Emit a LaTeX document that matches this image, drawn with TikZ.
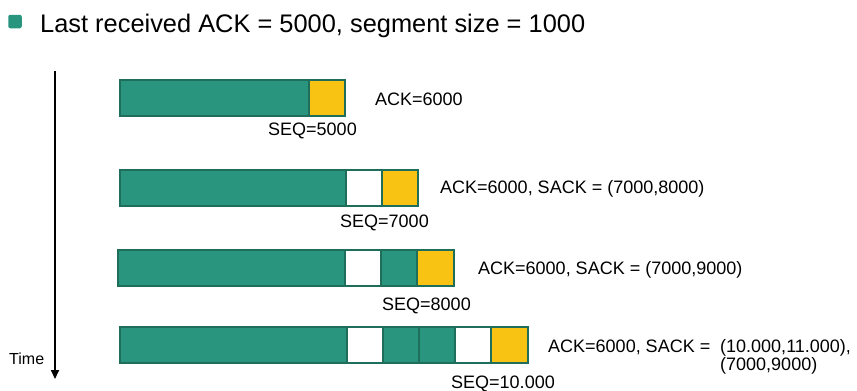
\documentclass[tikz,border=0pt]{standalone}
\usepackage{fontspec}
\setmainfont{Liberation Sans}
\usetikzlibrary{arrows.meta, positioning}
\definecolor{segfill}{HTML}{2A957F}
\definecolor{segline}{HTML}{1F6E5C}
\definecolor{segyellow}{HTML}{F9C314}

\begin{document}
\begin{tikzpicture}[x=1pt, y=-1pt,
    cell/.style={draw=segline, line width=2pt, minimum height=36pt, minimum width=36.2pt, inner sep=0pt, outer sep=0pt},
    acked/.style={cell, fill=segfill},
    lost/.style={cell, fill=white},
    sent/.style={cell, fill=segyellow},
    lbl/.style={anchor=base west, inner sep=0pt, font=\fontsize{18}{21}\selectfont}]

    \useasboundingbox (0,0) rectangle (857,391);

    % Title line
    \node[fill=segfill, rounded corners=2pt, minimum size=13.5pt, inner sep=0pt] (bullet) at (15,21.5) {};
    \node[anchor=base west, inner sep=0pt, font=\fontsize{25.4}{30}\selectfont] (title) at (40,32) {Last received ACK = 5000, segment size = 1000};

    % Time axis
    \coordinate (tstart) at (55,71);
    \coordinate (tend) at (55,379);
    \draw[line width=2pt, -{Triangle[length=9pt, width=8pt]}] (tstart) -- (tend);
    \node[lbl, font=\fontsize{16}{19}\selectfont] (time) at (9,364) {Time};

    % Row 1
    \node[acked, minimum width=189pt, anchor=north west] (r1a) at (120,80) {};
    \node[sent, right=0pt of r1a] (r1b) {};
    \node[lbl] (ack1) at (375,105) {ACK=6000};
    \node[lbl] (seq1) at (268,135) {SEQ=5000};

    % Row 2
    \node[acked, minimum width=226pt, anchor=north west] (r2a) at (120,170) {};
    \node[lost, right=0pt of r2a] (r2b) {};
    \node[sent, right=0pt of r2b] (r2c) {};
    \node[lbl] (ack2) at (440,193) {ACK=6000, SACK = (7000,8000)};
    \node[lbl] (seq2) at (340,227) {SEQ=7000};

    % Row 3
    \node[acked, minimum width=227pt, anchor=north west] (r3a) at (118,250) {};
    \node[lost, right=0pt of r3a] (r3b) {};
    \node[acked, right=0pt of r3b] (r3c) {};
    \node[sent, right=0pt of r3c] (r3d) {};
    \node[lbl] (ack3) at (478,274) {ACK=6000, SACK = (7000,9000)};
    \node[lbl] (seq3) at (382,310) {SEQ=8000};

    % Row 4
    \node[acked, minimum width=226.5pt, anchor=north west] (r4a) at (120,327) {};
    \node[lost, right=0pt of r4a] (r4b) {};
    \node[acked, right=0pt of r4b] (r4c) {};
    \node[acked, right=0pt of r4c] (r4d) {};
    \node[lost, right=0pt of r4d] (r4e) {};
    \node[sent, right=0pt of r4e] (r4f) {};
    \node[lbl] (ack4) at (548,352) {ACK=6000, SACK =};
    \node[lbl] (sack4a) at (720,352) {(10.000,11.000),};
    \node[lbl] (sack4b) at (720,370) {(7000,9000)};
    \node[lbl] (seq4) at (451,388) {SEQ=10.000};
\end{tikzpicture}
\end{document}
